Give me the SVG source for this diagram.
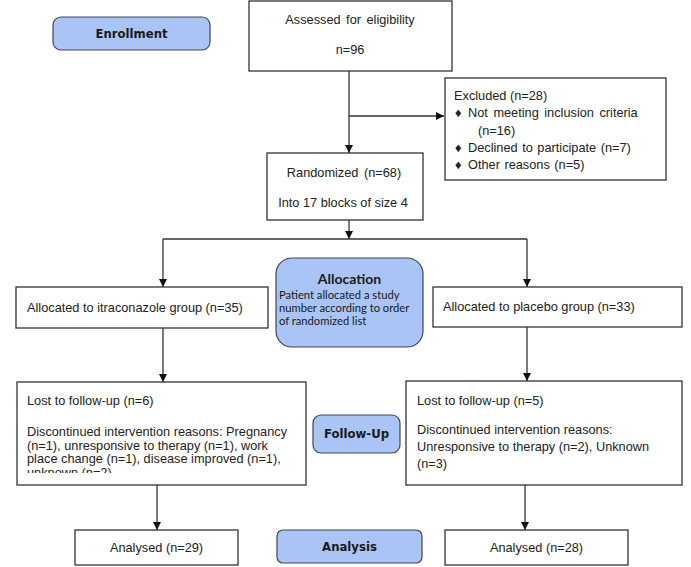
<svg xmlns="http://www.w3.org/2000/svg" width="691" height="567" viewBox="0 0 691 567">
<style>
.box{fill:#fff;stroke:#333;stroke-width:1.3}
.lbl{fill:#a9c4f5;stroke:#404652;stroke-width:1.2}
.t{font-family:"Liberation Sans",Arial,sans-serif;font-size:12.75px;fill:#222}
.h{font-family:"DejaVu Sans",Verdana,sans-serif;font-size:11.7px;font-weight:bold;fill:#1a1a1a}
.c{font-family:Lato,"Open Sans",sans-serif;fill:#1a1a1a}
.ln{fill:none;stroke:#333;stroke-width:1.3}
</style>
<defs>
<marker id="ar" viewBox="0 0 10 10" refX="10" refY="5" markerWidth="9" markerHeight="8" markerUnits="userSpaceOnUse" orient="auto">
<path d="M0,0 L10,5 L0,10 z" fill="#111"/>
</marker>
<clipPath id="clipL"><rect x="17" y="382" width="289" height="91"/></clipPath>
</defs>
<rect width="691" height="567" fill="#fff"/>

<g id="connectors">
<path class="ln" d="M349,71 V153" marker-end="url(#ar)"/>
<path class="ln" d="M349,116 H444" marker-end="url(#ar)"/>
<path class="ln" d="M349,220 V239" marker-end="url(#ar)"/>
<path class="ln" d="M163,239 H527"/>
<path class="ln" d="M163,239 V287" marker-end="url(#ar)"/>
<path class="ln" d="M527,239 V287" marker-end="url(#ar)"/>
<path class="ln" d="M163,328 V382" marker-end="url(#ar)"/>
<path class="ln" d="M527,327 V381" marker-end="url(#ar)"/>
<path class="ln" d="M157,485 V530" marker-end="url(#ar)"/>
<path class="ln" d="M525,485 V530" marker-end="url(#ar)"/>
</g>

<g id="enrollment">
<rect class="lbl" x="53" y="17" width="157" height="33" rx="8"/>
<text class="h" x="131.5" y="38" text-anchor="middle">Enrollment</text>
</g>

<g id="assessed">
<rect class="box" x="249" y="1" width="203" height="70"/>
<text class="t" x="350" y="24" text-anchor="middle" word-spacing="2">Assessed for eligibility</text>
<text class="t" x="350" y="54" text-anchor="middle">n=96</text>
</g>

<g id="excluded">
<rect class="box" x="445" y="78" width="221" height="102"/>
<text class="t" x="454" y="100">Excluded (n=28)</text>
<text class="t" x="455" y="117">♦</text>
<text class="t" x="468" y="117" word-spacing="2">Not meeting inclusion criteria</text>
<text class="t" x="478" y="135">(n=16)</text>
<text class="t" x="455" y="152">♦</text>
<text class="t" x="468" y="152" word-spacing="1">Declined to participate  (n=7)</text>
<text class="t" x="455" y="169">♦</text>
<text class="t" x="468" y="169" word-spacing="1">Other reasons (n=5)</text>
</g>

<g id="randomized">
<rect class="box" x="267" y="153" width="156" height="67"/>
<text class="t" x="344" y="177" text-anchor="middle" word-spacing="2">Randomized (n=68)</text>
<text class="t" x="343" y="207" text-anchor="middle">Into 17 blocks of size 4</text>
</g>

<g id="allocation">
<rect class="lbl" x="276" y="258" width="147" height="89" rx="16"/>
<text class="c" x="349.5" y="284" text-anchor="middle" font-size="14" font-weight="bold">Allocation</text>
<text class="c" x="279" y="299" font-size="11.2">Patient allocated a study</text>
<text class="c" x="279" y="312" font-size="11.2">number according to order</text>
<text class="c" x="279" y="325" font-size="11.2">of randomized list</text>
</g>

<g id="alloc-itra">
<rect class="box" x="16" y="287" width="252" height="41"/>
<text class="t" x="27" y="312">Allocated to itraconazole group (n=35)</text>
</g>

<g id="alloc-placebo">
<rect class="box" x="433" y="287" width="249" height="40"/>
<text class="t" x="443" y="311">Allocated to placebo group (n=33)</text>
</g>

<g id="lost-itra">
<rect class="box" x="17" y="382" width="289" height="103"/>
<text class="t" x="27" y="405">Lost to follow-up (n=6)</text>
<g clip-path="url(#clipL)">
<text class="t" x="27" y="436" textLength="260">Discontinued intervention reasons: Pregnancy</text>
<text class="t" x="27" y="449.5">(n=1), unresponsive to therapy (n=1), work</text>
<text class="t" x="27" y="463">place change (n=1), disease improved (n=1),</text>
<text class="t" x="27" y="476.5">unknown (n=2)</text>
</g>
</g>

<g id="followup">
<rect class="lbl" x="313" y="415" width="87" height="38" rx="8"/>
<text class="h" x="356.5" y="438" text-anchor="middle">Follow-Up</text>
</g>

<g id="lost-placebo">
<rect class="box" x="406" y="381" width="276" height="104"/>
<text class="t" x="417" y="405">Lost to follow-up (n=5)</text>
<text class="t" x="417" y="434">Discontinued intervention reasons:</text>
<text class="t" x="417" y="451">Unresponsive to therapy (n=2), Unknown</text>
<text class="t" x="417" y="468">(n=3)</text>
</g>

<g id="analysed-itra">
<rect class="box" x="75" y="530" width="163" height="35"/>
<text class="t" x="156.5" y="552" text-anchor="middle">Analysed (n=29)</text>
</g>

<g id="analysis">
<rect class="lbl" x="277" y="530" width="145" height="33" rx="6"/>
<text class="h" x="349.5" y="551" text-anchor="middle">Analysis</text>
</g>

<g id="analysed-placebo">
<rect class="box" x="445" y="530" width="183" height="35"/>
<text class="t" x="536.5" y="552" text-anchor="middle">Analysed (n=28)</text>
</g>
</svg>
